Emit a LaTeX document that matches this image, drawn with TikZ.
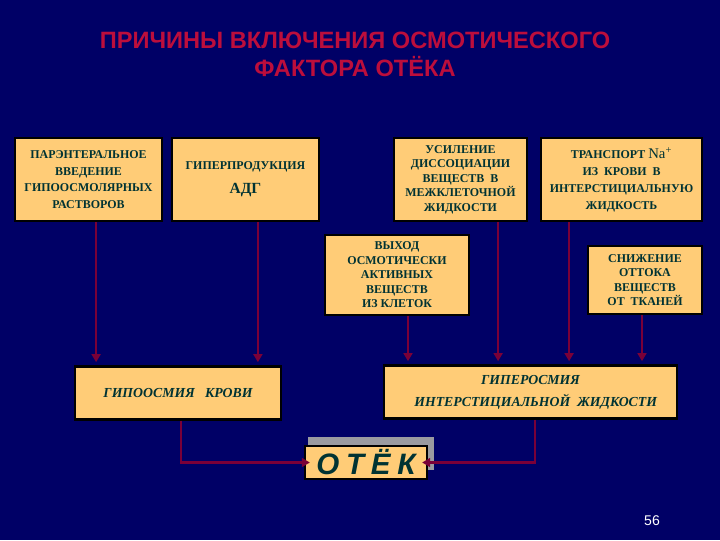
\documentclass[tikz,border=0pt]{standalone}
\usepackage{fontspec}
\setmainfont{Liberation Serif}
\newfontfamily\headfont{Liberation Sans}
\usepackage{xcolor}
\definecolor{cBack}{HTML}{000066}
\definecolor{cTitle}{HTML}{BC0E3C}
\definecolor{cBox}{HTML}{FFCC77}
\definecolor{cText}{HTML}{003333}
\definecolor{cLine}{HTML}{7A0038}
\definecolor{cShade}{HTML}{9A9AA0}
\usepackage{tikz}
\usetikzlibrary{positioning,arrows.meta,calc}
\tikzset{
  node-box/.style={draw=black,line width=1.6pt,fill=cBox,text=cText,align=center,
    inner sep=1pt,font=\fontsize{8.5}{11.9}\selectfont\bfseries},
  node-tight/.style={node-box,font=\fontsize{8.5}{10.3}\selectfont\bfseries},
  node-result/.style={node-box,font=\fontsize{9.8}{15.5}\selectfont\bfseries\itshape},
  node-otek/.style={node-box,font=\headfont\fontsize{21}{21}\selectfont\bfseries\itshape},
  node-shade/.style={fill=cShade,inner sep=0pt},
  node-title/.style={text=cTitle,align=center,font=\headfont\fontsize{16.8}{20}\selectfont\bfseries},
  % стрелки от причин к следствиям
  arrow/.style={-{Triangle[length=2mm,width=2.2mm]},line width=1.6pt,draw=cLine,shorten >=0.8mm},
  arrow-in/.style={arrow,shorten >=-1.5mm},
}

\begin{document}
\begin{tikzpicture}[x=0.025cm,y=-0.025cm]
  \fill[cBack] (0,0) rectangle (720,540);

  \node[node-title] (title) at (355,54) {ПРИЧИНЫ ВКЛЮЧЕНИЯ ОСМОТИЧЕСКОГО\\ФАКТОРА ОТЁКА};

  \node[node-box,minimum width=36.75mm,minimum height=20.75mm] (parent) at (88.5,179.5)
    {ПАРЭНТЕРАЛЬНОЕ\\ВВЕДЕНИЕ\\ГИПООСМОЛЯРНЫХ\\РАСТВОРОВ};
  \node[node-box,minimum width=36.75mm,minimum height=20.75mm] (adh) at (245.5,179.5)
    {ГИПЕРПРОДУКЦИЯ\\[5pt]{\fontsize{11}{11}\selectfont АДГ}};
  \node[node-tight,minimum width=33.25mm,minimum height=20.75mm] (dissoc) at (460.5,179.5)
    {УСИЛЕНИЕ\\ДИССОЦИАЦИИ\\ВЕЩЕСТВ~~В\\МЕЖКЛЕТОЧНОЙ\\ЖИДКОСТИ};
  \node[node-box,minimum width=40.25mm,minimum height=20.75mm] (natrans) at (621.5,179.5)
    {ТРАНСПОРТ {\fontsize{10.5}{10}\selectfont\mdseries Na\textsuperscript{+}}\\ИЗ~~КРОВИ~~В\\ИНТЕРСТИЦИАЛЬНУЮ\\ЖИДКОСТЬ};
  \node[node-tight,minimum width=36mm,minimum height=20mm] (exit) at (397,275)
    {ВЫХОД\\ОСМОТИЧЕСКИ\\АКТИВНЫХ\\ВЕЩЕСТВ\\ИЗ КЛЕТОК};
  \node[node-tight,minimum width=28.5mm,minimum height=17mm] (outflow) at (645,280)
    {СНИЖЕНИЕ\\ОТТОКА\\ВЕЩЕСТВ\\ОТ~~ТКАНЕЙ};

  \node[node-result,minimum width=51.5mm,minimum height=13.25mm] (hypoblood) at (178,393)
    {ГИПООСМИЯ~~~КРОВИ};
  \node[node-result,minimum width=73.25mm,minimum height=13.25mm] (hyperint) at (530.5,392)
    {ГИПЕРОСМИЯ\\~~~ИНТЕРСТИЦИАЛЬНОЙ~~ЖИДКОСТИ};

  \node[node-shade,minimum width=31.5mm,minimum height=8.25mm] (shade) at (371,453.5) {};
  \node[node-otek,minimum width=30.5mm,minimum height=8.25mm] (otek) at (366,462.5)
    {О\hspace{1.7mm}Т\hspace{1.7mm}Ё\hspace{1.7mm}К};

  \draw[arrow] ([xshift=1.9mm]parent.south) coordinate (a1) -- (a1 |- hypoblood.north);
  \draw[arrow] ([xshift=3.1mm]adh.south) coordinate (a2) -- (a2 |- hypoblood.north);
  \draw[arrow] ([xshift=2.75mm]exit.south) coordinate (a3) -- (a3 |- hyperint.north);
  \draw[arrow] ([xshift=9.4mm]dissoc.south) coordinate (a4) -- (a4 |- hyperint.north);
  \draw[arrow] ([xshift=-13.1mm]natrans.south) coordinate (a5) -- (a5 |- hyperint.north);
  \draw[arrow] ([xshift=-0.75mm]outflow.south) coordinate (a6) -- (a6 |- hyperint.north);

  \draw[arrow-in] ([xshift=0.75mm]hypoblood.south) coordinate (b1) -- (b1 |- otek.west) -- (otek.west);
  \draw[arrow-in] ([xshift=1.1mm]hyperint.south) coordinate (b2) -- (b2 |- otek.east) -- (otek.east);

  \node[text=white,font=\headfont\fontsize{10}{10}\selectfont] (page) at (652,521) {56};
\end{tikzpicture}
\end{document}
